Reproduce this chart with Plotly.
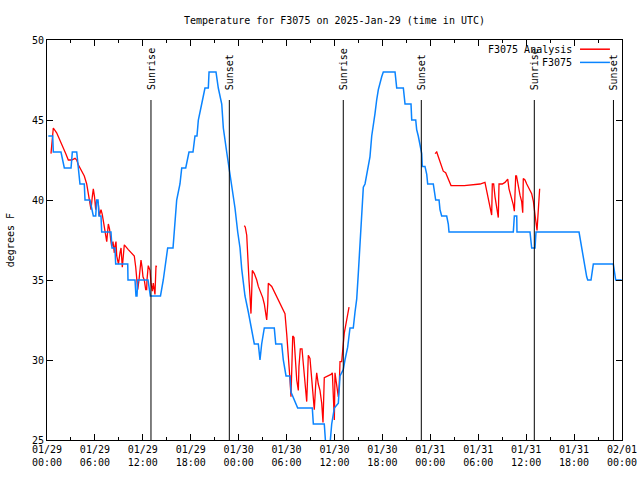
import plotly.graph_objects as go
import pandas as pd

BASE = pd.Timestamp("2025-01-29 00:00")

# Observed F3075 (hours since 01/29 00:00 UTC, deg F)
obs_hours = [0.16, 0.71, 0.79, 1.75, 2.17, 3.01, 3.17, 3.72, 4.13, 4.67, 4.76, 5.38, 5.80, 6.10, 6.22,
             6.39, 6.51, 6.76, 6.85, 8.01, 8.14, 8.51, 8.60, 10.11, 10.14, 11.02, 11.14, 11.27, 11.36,
             12.65, 12.94, 14.21, 14.56, 14.86, 15.11, 15.78, 15.94, 16.24, 16.65, 16.87, 17.37, 17.78,
             18.28, 18.53, 18.78, 18.95, 19.37, 19.78, 20.20, 20.29, 21.16, 21.45, 21.88, 22.08, 22.50,
             22.79, 23.13, 23.54, 23.88, 24.17, 24.38, 24.58, 24.79, 25.21, 25.63, 25.96, 26.46, 26.67,
             26.88, 27.21, 28.46, 28.64, 29.39, 29.59, 29.93, 30.43, 30.55, 31.39, 33.22, 33.35, 34.72,
             34.81, 35.00, 35.31, 35.44, 35.65, 35.98, 36.48, 36.69, 37.10, 37.31, 37.65, 37.94, 38.35,
             38.57, 38.78, 38.98, 39.19, 39.41, 39.61, 39.82, 40.03, 40.23, 40.44, 40.66, 40.86, 41.07,
             41.28, 41.49, 41.91, 42.11, 43.58, 43.79, 44.62, 44.83, 45.58, 45.67, 46.17, 46.29, 46.49,
             46.71, 46.92, 46.99, 47.33, 47.55, 47.67, 48.37, 48.59, 48.67, 49.09, 49.21, 49.42, 50.05,
             50.25, 50.34, 58.39, 58.52, 58.82, 58.85, 60.48, 60.61, 60.69, 61.11, 61.23, 66.62, 66.74,
             66.95, 67.16, 67.37, 67.58, 67.71, 68.12, 68.29, 68.41, 70.91, 71.04, 71.21, 71.96]
obs_temps = [44, 44, 43, 43, 42, 42, 43, 43, 41, 41, 40, 40, 39, 39, 40,
             40, 39, 39, 38, 38, 37, 37, 36, 36, 35, 35, 34, 34, 35,
             35, 34, 34, 35, 36, 37, 37, 38, 40, 41, 42, 42, 43,
             43, 44, 44, 45, 46, 47, 47, 48, 48, 47, 46, 44.5, 43,
             42, 41, 39.5, 38, 37, 35.7, 35, 34, 33, 32, 31, 31, 30,
             31, 32, 32, 31, 31, 30, 29, 29, 28, 27, 27, 26, 26,
             25, 24, 24, 25, 26, 27, 27.3, 29, 29.4, 30, 30.8, 32, 32,
             33, 33.8, 35.4, 37.5, 39.4, 40.8, 41, 41.5, 42.1, 42.7, 44, 44.6, 45.4,
             46.25, 46.9, 47.7, 48, 48, 47, 47, 46, 46, 45, 45, 44.4, 44,
             43.4, 42.9, 42.1, 42.1, 41.6, 41, 41, 40.4, 40, 40, 39.4, 39, 39,
             38.5, 38, 38, 39, 39, 38, 38, 37.5, 37, 37, 38, 38, 37.6,
             37, 36.5, 35.8, 35.2, 35, 35, 35.6, 36, 36, 35.5, 35, 35]

# Analysis F3075 (None = gap)
ana_hours = [0.50, 0.79, 1.21, 1.63, 2.04, 2.34, 2.67, 3.09, 3.51, 3.72, 3.92, 4.35, 4.67, 4.97, 5.17,
             5.38, 5.51, 5.67, 5.80, 5.95, 6.10, 6.22, 6.42, 6.55, 6.76, 6.92, 7.05, 7.26, 7.48, 7.68,
             7.83, 7.98, 8.10, 8.26, 8.43, 8.51, 8.64, 8.73, 8.95, 9.14, 9.27, 9.43, 9.55, 9.68, 10.18,
             10.61, 10.93, 11.11, 11.23, 11.36, 11.52, 11.65, 11.77, 11.90, 12.02, 12.18, 12.36, 12.48,
             12.52, 12.68, 12.90, 13.02, 13.19, 13.31, 13.44, 13.52, 13.65, 13.71,
             19.0,
             24.71, 24.83, 25.01, 25.13, 25.21, 25.29, 25.42, 25.54, 25.63, 25.71, 25.96, 26.26, 26.46,
             26.80, 27.01, 27.21, 27.39, 27.51, 27.64, 27.71, 28.14, 28.55, 28.96, 29.39, 29.80, 30.02,
             30.22, 30.43, 30.55, 30.64, 30.77, 30.93, 31.05, 31.18, 31.27, 31.47, 31.55, 31.72, 31.93,
             32.09, 32.31, 32.52, 32.62, 32.72, 32.93, 33.06, 33.22, 33.47, 33.65, 33.77, 33.97, 34.18,
             34.40, 34.56, 34.72, 35.22, 35.56, 35.73, 35.85, 35.98, 36.06, 36.28, 36.48, 36.60, 36.69,
             36.90, 36.98, 37.10, 37.23, 37.40, 37.65, 37.82,
             43.0,
             48.59, 48.80, 49.00, 49.21, 49.42, 49.62, 49.92, 50.25, 50.59, 52.25, 53.18, 53.59, 54.22,
             54.84, 55.06, 55.26, 55.47, 55.68, 55.76, 55.93, 56.10, 56.31, 56.51, 56.60, 57.01, 57.35,
             57.69, 57.85, 58.10, 58.39, 58.52, 58.69, 58.79, 59.02, 59.23, 59.44, 59.57, 59.64, 59.85,
             60.07, 60.27, 60.48, 60.69, 60.91, 61.04, 61.19, 61.36, 61.52, 61.69]
ana_temps = [42.9, 44.5, 44.2, 43.75, 43.3, 42.9, 42.5, 42.5, 42.6, 42.5, 42.2, 41.8, 41.5, 41, 40.4,
             39.8, 39.4, 40.2, 40.7, 40.2, 39.4, 40, 39.8, 39, 39.4, 39.1, 38.75, 38.1, 37.4, 38.5,
             38.2, 37.5, 37.1, 37.4, 36.7, 37.1, 37.4, 36.5, 36, 36.7, 37, 35.8, 36.5, 37.2, 36.9,
             36.7, 36.5, 35.8, 35.2, 34.4, 35, 35.6, 36.25, 35.8, 35.2, 35, 34.4, 34.4,
             35, 35.9, 35.6, 34.8, 34.3, 34.8, 34.1, 34.1, 35.9, 35.8,
             None,
             38.4, 38.3, 37.8, 36.9, 36, 35, 34, 32.9, 34.2, 35.6, 35.4, 35, 34.6,
             34.2, 33.9, 33.5, 32.9, 32.5, 33.5, 34.8, 34.6, 34.2, 33.75, 33.3, 32.9, 31.6,
             29.8, 28.75, 27.7, 29.6, 31.5, 31.4, 30.6, 29.4, 28.75, 28.1, 29.6, 30.7, 30.7,
             29.8, 28.75, 27.4, 28.75, 30.3, 30.1, 29.4, 28.5, 26.9, 28.5, 29.2, 28.5, 28.1,
             27.3, 26.1, 28.9, 29, 29.1, 29.2, 27.9, 26.25, 29.2, 28.5, 27.7, 28.5, 29.9,
             29.9, 30.6, 31, 31.7, 32.1, 32.8, 33.3,
             None,
             42.9, 43, 42.7, 42.4, 42.1, 41.8, 41.7, 41.35, 40.9, 40.9, 40.95, 41, 41,
             41.1, 40.6, 40, 39.5, 39.06, 41, 41, 40.2, 39.6, 38.9, 41, 41, 41.1,
             41.3, 40.7, 40.3, 39.7, 39.3, 41.5, 41.5, 40.8, 40.3, 39.9, 39.2, 41.35, 41.25,
             41, 40.8, 40.6, 40.4, 39.9, 39.5, 38.75, 38.1, 39.5, 40.7]

sun_hours = [13.02, 22.83, 37.10, 46.87, 61.02, 70.93]
sun_labels = ["Sunrise", "Sunset", "Sunrise", "Sunset", "Sunrise", "Sunset"]

tick_hours = [0, 6, 12, 18, 24, 30, 36, 42, 48, 54, 60, 66, 72]
tick_labels = ["01/29<br>00:00", "01/29<br>06:00", "01/29<br>12:00", "01/29<br>18:00",
               "01/30<br>00:00", "01/30<br>06:00", "01/30<br>12:00", "01/30<br>18:00",
               "01/31<br>00:00", "01/31<br>06:00", "01/31<br>12:00", "01/31<br>18:00",
               "02/01<br>00:00"]
minor_tick_hours = [3, 9, 15, 21, 27, 33, 39, 45, 51, 57, 63, 69]

def to_time(hours):
    return [None if h is None else BASE + pd.Timedelta(hours=h) for h in hours]

FONT = "DejaVu Sans Mono"
RED = "#ff0000"
BLUE = "#0a84ff"

fig = go.Figure()
fig.add_trace(go.Scatter(x=to_time(ana_hours), y=ana_temps, mode="lines",
                         line=dict(color=RED, width=1.3), connectgaps=False,
                         name="F3075 Analysis", showlegend=False))
fig.add_trace(go.Scatter(x=to_time(obs_hours), y=obs_temps, mode="lines",
                         line=dict(color=BLUE, width=1.5), name="F3075", showlegend=False))

shapes = []
annotations = []
for h, lab in zip(sun_hours, sun_labels):
    t = BASE + pd.Timedelta(hours=h)
    shapes.append(dict(type="line", xref="x", yref="paper", x0=t, x1=t, y0=0, y1=0.85,
                       line=dict(color="black", width=1)))
    annotations.append(dict(x=t, xref="x", y=0.87, yref="paper", text=lab, textangle=-90,
                            showarrow=False, xanchor="center", yanchor="bottom",
                            font=dict(family=FONT, size=10, color="black")))

# manual gnuplot-style legend (text then sample)
legend_items = [("F3075 Analysis", RED, 0.977), ("F3075", BLUE, 0.944)]
for name, col, yy in legend_items:
    annotations.append(dict(x=0.917, xref="paper", y=yy, yref="paper", text=name,
                            showarrow=False, xanchor="right", yanchor="middle",
                            font=dict(family=FONT, size=10, color="black")))
    shapes.append(dict(type="line", xref="paper", yref="paper", x0=0.927, x1=0.979,
                       y0=yy, y1=yy, line=dict(color=col, width=1.5)))

# y-axis title as rotated annotation
annotations.append(dict(x=-0.064, xref="paper", y=0.5, yref="paper", text="degrees F",
                        textangle=-90, showarrow=False, xanchor="center", yanchor="middle",
                        font=dict(family=FONT, size=10, color="black")))

fig.update_layout(
    width=640, height=480,
    margin=dict(l=47, r=18, t=40, b=40, autoexpand=False),
    paper_bgcolor="white", plot_bgcolor="white",
    font=dict(family=FONT, size=10, color="black"),
    title=dict(text="Temperature for F3075 on 2025-Jan-29 (time in UTC)",
               x=(47 + 622) / 2 / 640, xanchor="center", y=1 - 20 / 480, yanchor="middle",
               font=dict(family=FONT, size=10, color="black")),
    shapes=shapes, annotations=annotations, showlegend=False,
)
fig.update_xaxes(type="date", range=[BASE, BASE + pd.Timedelta(hours=72)],
                 tickvals=to_time(tick_hours), ticktext=tick_labels, automargin=False,
                 ticks="inside", ticklen=6, tickcolor="black", showline=True, linecolor="black",
                 linewidth=1, mirror="allticks", showgrid=False, zeroline=False,
                 minor=dict(ticks="inside", ticklen=3, tickcolor="black",
                            tickvals=to_time(minor_tick_hours), showgrid=False),
                 tickfont=dict(family=FONT, size=10))
fig.update_yaxes(range=[25, 50], dtick=5, tick0=25, ticks="inside", ticklen=6, tickcolor="black",
                 showline=True, linecolor="black", linewidth=1, mirror="allticks",
                 showgrid=False, zeroline=False, automargin=False,
                 tickfont=dict(family=FONT, size=10))

fig.write_html("out.html", config={"displayModeBar": False},
               post_script="document.body.style.margin='0';")
